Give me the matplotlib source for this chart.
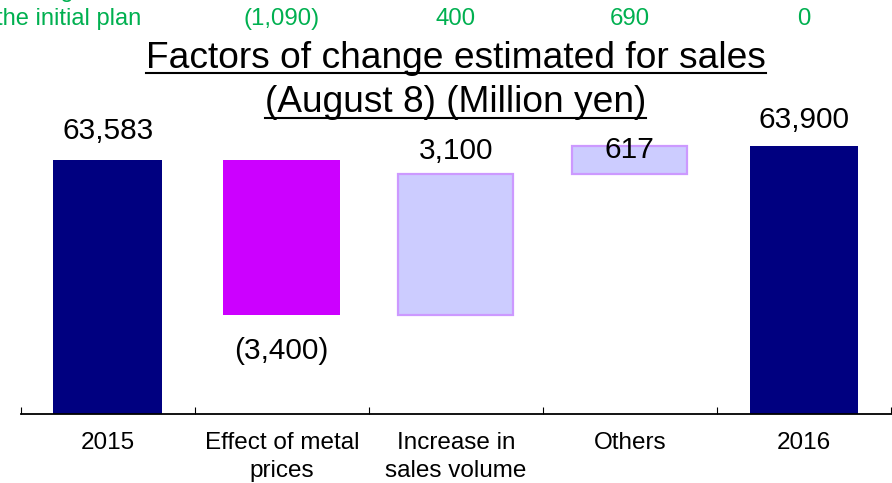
import matplotlib
matplotlib.use("Agg")
import matplotlib.pyplot as plt
from matplotlib.lines import Line2D

plt.rcParams['font.family'] = ['Liberation Sans', 'DejaVu Sans']

# ---- data ----
categories = ["2015", "Effect of metal\nprices", "Increase in\nsales volume", "Others", "2016"]
values = [63583, -3400, 3100, 617, 63900]
is_total = [True, False, False, False, True]
plan_label = "Change from\nthe initial plan"
plan_change = [-1090, 400, 690, 0]  # for categories 1..4
title_lines = ["Factors of change estimated for sales", "(August 8) (Million yen)"]
y_min = 58000

def fmt(v):
    return f"({abs(v):,})" if v < 0 else f"{v:,}"

W, H, DPI = 892, 483, 100
fig = plt.figure(figsize=(W / DPI, H / DPI), dpi=DPI)

ax_left_px, ax_right_px = 20.7, 891.0
ax_bottom_px = 414.3
px_per_unit = 0.0455
y_max = y_min + ax_bottom_px / px_per_unit

ax = fig.add_axes([ax_left_px / W, (H - ax_bottom_px) / H,
                   (ax_right_px - ax_left_px) / W, ax_bottom_px / H])
ax.set_xlim(-0.5, len(categories) - 0.5)
ax.set_ylim(y_min, y_max)

navy = "#000080"
magenta = "#CC00FF"
light = "#CCCCFF"
light_edge = "#CC99FF"

running = 0
bars = []
for i, (v, tot) in enumerate(zip(values, is_total)):
    if tot:
        ax.bar(i, v, width=0.625, bottom=0, color=navy, linewidth=0)
        bot, top = 0, v
        running = v
    else:
        start = running
        end = running + v
        bot, top = min(start, end), max(start, end)
        if v < 0:
            ax.bar(i, top - bot, width=0.672, bottom=bot, color=magenta, linewidth=0)
        else:
            ax.bar(i, top - bot, width=0.66, bottom=bot, color=light,
                   edgecolor=light_edge, linewidth=1.6)
        running = end
    bars.append((bot, top))

# value labels: (anchor value, offset in points)
label_specs = []
for i, v in enumerate(values):
    bot, top = bars[i]
    if is_total[i]:
        label_specs.append((top, 15 if i == 0 else 13))
    elif v < 0:
        label_specs.append((bot, -31.7))
    elif categories[i] == "Others":
        label_specs.append((bot, 11.5))
    else:
        label_specs.append((top, 10.8))

for i, v in enumerate(values):
    anchor, off = label_specs[i]
    ax.annotate(fmt(v), xy=(i, anchor), xytext=(0, off), textcoords="offset points",
                ha="center", va="baseline", fontsize=21.5, color="black")

# axes styling
for s in ["top", "left", "right"]:
    ax.spines[s].set_visible(False)
ax.spines["bottom"].set_linewidth(1.3)
ax.set_yticks([])
ax.set_xticks(range(len(categories)))
ax.set_xticklabels(categories, fontsize=17.5, linespacing=1.33)
ax.tick_params(axis="x", which="major", length=0, pad=13)
ax.set_xticks([i - 0.5 for i in range(len(categories) + 1)], minor=True)
ax.tick_params(axis="x", which="minor", direction="in", length=5, width=0.8)

# green "change from initial plan" row
green = "#00B050"
base_y = 1 - 25 / H
fig.text(141 / W, base_y, plan_label, ha="right", va="baseline", fontsize=17,
         color=green, linespacing=1.38, multialignment="right")
for i, v in enumerate(plan_change, start=1):
    xd = ax.transData.transform((i, 0))[0]
    fig.text(xd / W, base_y, fmt(v), ha="center", va="baseline", fontsize=17.3, color=green)

# title with underlines
cx = (ax_left_px + ax_right_px) / 2 / W
title_texts = []
for line, yb in zip(title_lines, [67.7, 112.5]):
    t = fig.text(cx, 1 - yb / H, line, ha="center", va="baseline", fontsize=26.7,
                 color="black")
    title_texts.append((t, yb))

fig.canvas.draw()
r = fig.canvas.get_renderer()
for t, yb in title_texts:
    bb = t.get_window_extent(r)
    yu = 1 - (yb + 5) / H
    fig.add_artist(Line2D([bb.x0 / W, bb.x1 / W], [yu, yu], transform=fig.transFigure,
                          color="black", linewidth=1.5))

fig.savefig("out.png", dpi=DPI)
